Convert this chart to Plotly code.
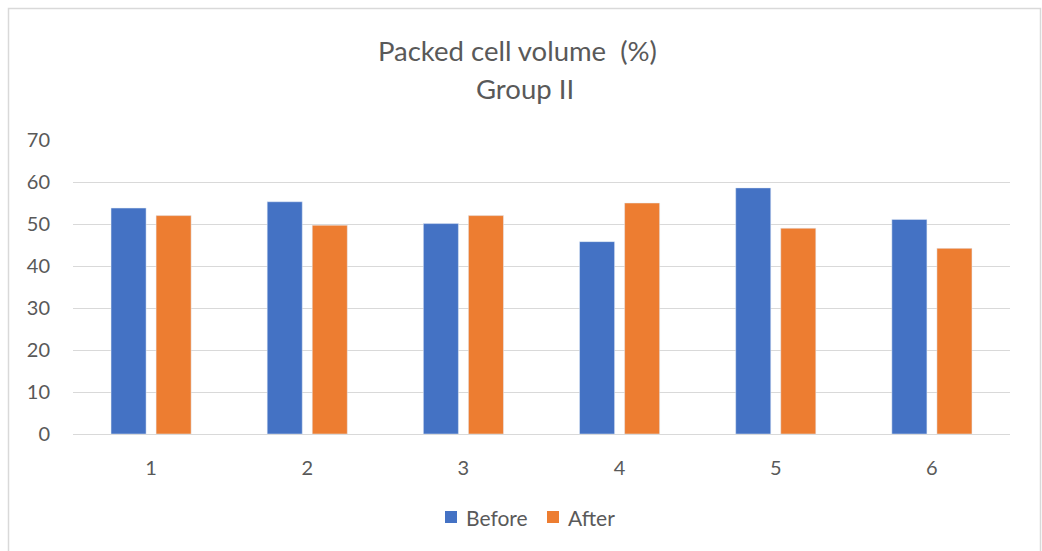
import plotly.graph_objects as go

# Packed cell volume (%) for Group II animals, before and after treatment
animals = ["1", "2", "3", "4", "5", "6"]
before = [53.8, 55.3, 50.1, 45.8, 58.6, 51.1]
after = [52.0, 49.7, 52.0, 55.0, 49.0, 44.2]
y_ticks = [0, 10, 20, 30, 40, 50, 60, 70]
series_names = ["Before", "After"]
series_colors = ["#4472C4", "#ED7D31"]
title_lines = ["Packed cell volume  (%)", "Group II"]

W, H = 1042, 551
ML, MR, MT, MB = 73, 32, 140, 117
plot_w = W - ML - MR
plot_h = H - MT - MB

FONT = "Lato"
TXT = "#595959"
GRID = "#d9d9d9"


def px_x(p):
    return (p - ML) / plot_w


def px_y(p):
    return (H - MB - p) / plot_h


fig = go.Figure()
for name, vals, col in zip(series_names, [before, after], series_colors):
    fig.add_trace(go.Bar(x=animals, y=vals, name=name, marker_color=col,
                         showlegend=False))

annotations = []
# two-line centred title
for text, xc, yc in zip(title_lines, [517, 525], [50, 88]):
    annotations.append(dict(
        text=text, xref="paper", yref="paper",
        x=px_x(xc), y=px_y(yc), xanchor="center", yanchor="middle",
        showarrow=False, font=dict(family=FONT, size=27.5, color=TXT),
    ))

# legend below the axis: coloured squares followed by labels
shapes = []
legend_items = [(445, 464), (547, 566)]
for (sq_x, tx_x), name, col in zip(legend_items, series_names, series_colors):
    shapes.append(dict(
        type="rect", xref="paper", yref="paper",
        x0=px_x(sq_x), x1=px_x(sq_x + 12), y0=px_y(523), y1=px_y(511),
        fillcolor=col, line=dict(width=0),
    ))
    annotations.append(dict(
        text=name, xref="paper", yref="paper",
        x=px_x(tx_x), y=px_y(517), xanchor="left", yanchor="middle",
        showarrow=False, font=dict(family=FONT, size=21, color=TXT),
    ))

# outer chart border
shapes.append(dict(
    type="rect", xref="paper", yref="paper",
    x0=px_x(8.5), x1=px_x(1040.5), y0=px_y(560), y1=px_y(8.5),
    line=dict(color=GRID, width=1.5), fillcolor="rgba(0,0,0,0)",
    layer="below",
))

fig.update_layout(
    width=W,
    height=H,
    margin=dict(l=ML, r=MR, t=MT, b=MB),
    paper_bgcolor="white",
    plot_bgcolor="white",
    barmode="group",
    bargap=0.423,
    bargroupgap=0.222,
    showlegend=False,
    font=dict(family=FONT, color=TXT, size=20),
    xaxis=dict(
        showgrid=False,
        showline=False,
        ticks="",
        ticklabelstandoff=20,
        tickfont=dict(size=20, color=TXT),
    ),
    yaxis=dict(
        range=[0, 70],
        tickvals=y_ticks,
        showgrid=True,
        gridcolor=GRID,
        gridwidth=1,
        zeroline=True,
        zerolinecolor=GRID,
        zerolinewidth=1,
        showline=False,
        ticks="",
        ticklabelstandoff=22,
        tickfont=dict(size=20, color=TXT),
    ),
    annotations=annotations,
    shapes=shapes,
)

fig.write_html("out.html")
